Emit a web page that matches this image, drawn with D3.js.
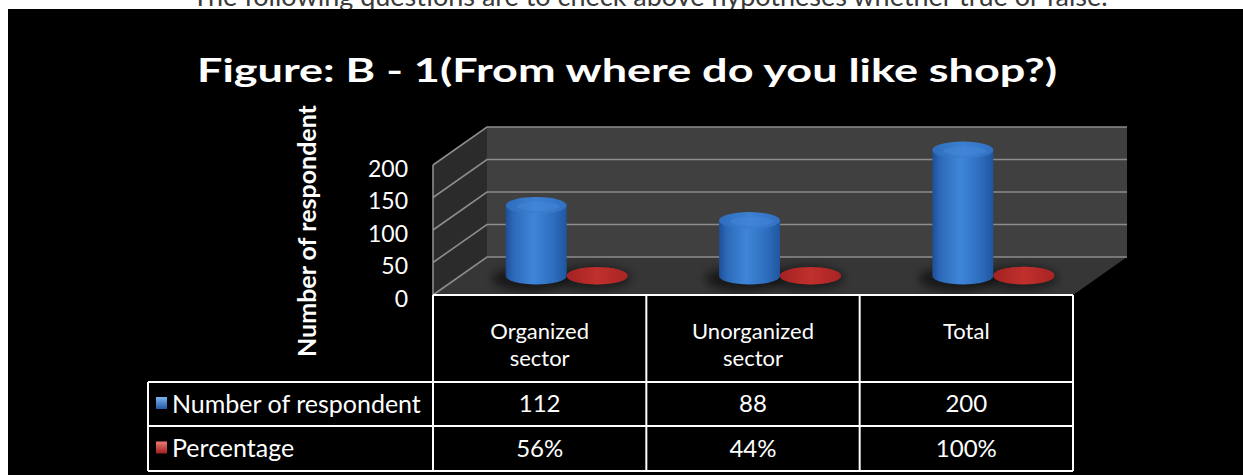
<!DOCTYPE html>
<html>
<head>
<meta charset="utf-8">
<script src="https://cdn.jsdelivr.net/npm/d3@7"></script>
<style>
  html, body { margin: 0; padding: 0; background: #fff; overflow: hidden; }
  svg { display: block; }
</style>
</head>
<body>
<svg id="chart" width="1243" height="475"></svg>
<script>
// ---- data ----
const categories = ["Organized sector", "Unorganized sector", "Total"];
const categoryLines = [["Organized", "sector"], ["Unorganized", "sector"], ["Total"]];
const seriesNames = ["Number of respondent", "Percentage"];
const respondents = [112, 88, 200];
const percentages = [0.56, 0.44, 1.00];
const yTicks = [0, 50, 100, 150, 200];
const chartTitle = "Figure: B - 1(From where do you like shop?)";
const axisTitle = "Number of respondent";
const noteText = "The following questions are to check above hypotheses whether true or false.";

const FONT = "Lato, 'Open Sans', sans-serif";
const svg = d3.select("#chart");
const defs = svg.append("defs");

// ---- page strip and dark chart area ----
svg.append("text")
  .attr("x", 650).attr("y", 6)
  .attr("text-anchor", "middle")
  .attr("font-family", FONT).attr("font-size", 27)
  .attr("fill", "#3a3a3a")
  .text(noteText);

svg.append("rect")
  .attr("x", 8).attr("y", 9).attr("width", 1235).attr("height", 466)
  .attr("fill", "#000");

// ---- title ----
svg.append("text")
  .attr("x", 627).attr("y", 82)
  .attr("text-anchor", "middle")
  .attr("font-family", FONT).attr("font-weight", 700).attr("font-size", 33)
  .attr("fill", "#fff")
  .attr("textLength", 860).attr("lengthAdjust", "spacingAndGlyphs")
  .text(chartTitle);

// ---- scales ----
const plot = { x0: 433, x1: 1073, base: 295, top: 165 };
const depth = { dx: 54, dy: -38 };
const y = d3.scaleLinear().domain([0, 200]).range([plot.base, plot.top]);
const x = d3.scaleBand().domain(categories).range([plot.x0, plot.x1]);
const xs = d3.scaleBand().domain(seriesNames).range([0, x.bandwidth()])
  .paddingInner(0).paddingOuter(0.75);
// plane half way into the box, where the columns stand
const mid = { dx: depth.dx * 0.5, dy: depth.dy * 0.5 };
const yMid = d3.scaleLinear().domain([0, 200]).range([plot.base + mid.dy, 150]);

// ---- 3D box: side wall, back wall, floor ----
const bx0 = plot.x0 + depth.dx, bx1 = plot.x1 + depth.dx;
const box = svg.append("g");
box.append("polygon")
  .attr("points", [[plot.x0, y(0)], [plot.x0, y(200)], [bx0, y(200) + depth.dy], [bx0, y(0) + depth.dy]].join(" "))
  .attr("fill", "#2b2b2b");
box.append("rect")
  .attr("x", bx0).attr("y", y(200) + depth.dy)
  .attr("width", bx1 - bx0).attr("height", y(0) - y(200))
  .attr("fill", "#404040");
box.append("polygon")
  .attr("points", [[plot.x0, y(0)], [plot.x1, y(0)], [bx1, y(0) + depth.dy], [bx0, y(0) + depth.dy]].join(" "))
  .attr("fill", "#363636");

// gridlines on side wall and back wall
const grid = box.append("g").attr("stroke", "#8c8c8c").attr("stroke-width", 1.6).attr("fill", "none");
grid.selectAll("polyline").data(yTicks).join("polyline")
  .attr("points", d => [[plot.x0, y(d)], [bx0, y(d) + depth.dy], [bx1, y(d) + depth.dy]].join(" "));
grid.append("line")
  .attr("x1", plot.x0).attr("x2", plot.x0)
  .attr("y1", y(0)).attr("y2", y(200));

// ---- y axis ----
const axis = svg.append("g")
  .attr("transform", `translate(${plot.x0},4)`)
  .call(d3.axisLeft(y).tickValues(yTicks).tickSize(0).tickPadding(25));
axis.select(".domain").remove();
axis.selectAll("text")
  .attr("font-family", FONT).attr("font-size", 23).attr("fill", "#fff");

svg.append("text")
  .attr("transform", "translate(316,231) rotate(-90)")
  .attr("text-anchor", "middle")
  .attr("font-family", FONT).attr("font-weight", 700).attr("font-size", 25)
  .attr("fill", "#fff")
  .text(axisTitle);

// ---- gradients ----
function hGrad(id, stops) {
  const g = defs.append("linearGradient").attr("id", id)
    .attr("x1", "0%").attr("x2", "100%").attr("y1", "0%").attr("y2", "0%");
  stops.forEach(([o, c]) => g.append("stop").attr("offset", o).attr("stop-color", c));
}
hGrad("blueBody", [["0%", "#1d4f95"], ["12%", "#2c68b8"], ["45%", "#3f86d8"], ["80%", "#2d6cbd"], ["100%", "#1f559e"]]);
hGrad("blueTop", [["0%", "#2f6dbd"], ["50%", "#3c80d2"], ["100%", "#3270c2"]]);
hGrad("redDisk", [["0%", "#a32222"], ["50%", "#c0302c"], ["100%", "#a82424"]]);
const vGrad = (id, a, b) => {
  const g = defs.append("linearGradient").attr("id", id)
    .attr("x1", "0%").attr("x2", "0%").attr("y1", "0%").attr("y2", "100%");
  g.append("stop").attr("offset", "0%").attr("stop-color", a);
  g.append("stop").attr("offset", "100%").attr("stop-color", b);
};
vGrad("keyBlue", "#7fb3ee", "#2459a6");
vGrad("keyRed", "#ee7a74", "#9e1f1f");
defs.append("filter").attr("id", "soft").attr("x", "-50%").attr("y", "-50%").attr("width", "200%").attr("height", "200%")
  .append("feGaussianBlur").attr("stdDeviation", 5);

// ---- columns ----
const ry = 8.5;
const rx = xs.bandwidth() / 2;
const rows = categories.map((c, i) => ({ cat: c, n: respondents[i], p: percentages[i] }));
const cx = (cat, s) => x(cat) + xs(s) + xs.bandwidth() / 2 + mid.dx;

const shadows = svg.append("g").attr("filter", "url(#soft)");
rows.forEach(r => {
  shadows.append("ellipse")
    .attr("cx", cx(r.cat, seriesNames[0]) - 6).attr("cy", yMid(0) + 3)
    .attr("rx", rx + 8).attr("ry", ry + 4).attr("fill", "#000").attr("opacity", 0.55);
  shadows.append("ellipse")
    .attr("cx", cx(r.cat, seriesNames[1]) - 4).attr("cy", yMid(0) + 2)
    .attr("rx", rx + 8).attr("ry", ry + 4).attr("fill", "#000").attr("opacity", 0.45);
});

const cyl = svg.append("g");
rows.forEach(r => {
  // red disk for the percentage (fraction of one, so it barely rises)
  const rc = cx(r.cat, seriesNames[1]);
  const g2 = cyl.append("g");
  g2.append("path")
    .attr("d", `M${rc - rx},${yMid(0)} L${rc - rx},${yMid(r.p)} A${rx},${ry} 0 0 1 ${rc + rx},${yMid(r.p)} L${rc + rx},${yMid(0)} A${rx},${ry} 0 0 1 ${rc - rx},${yMid(0)}Z`)
    .attr("fill", "url(#redDisk)");
  g2.append("ellipse").attr("cx", rc).attr("cy", yMid(r.p)).attr("rx", rx).attr("ry", ry)
    .attr("fill", "url(#redDisk)");
});
rows.forEach(r => {
  const c = cx(r.cat, seriesNames[0]);
  const yb = yMid(0), yt = yMid(r.n);
  const g = cyl.append("g");
  g.append("path")
    .attr("d", `M${c - rx},${yt} L${c - rx},${yb} A${rx},${ry} 0 0 0 ${c + rx},${yb} L${c + rx},${yt}Z`)
    .attr("fill", "url(#blueBody)");
  g.append("ellipse").attr("cx", c).attr("cy", yt).attr("rx", rx).attr("ry", ry)
    .attr("fill", "url(#blueTop)");
  g.append("ellipse").attr("cx", c + 2).attr("cy", yt + 1).attr("rx", rx * 0.7).attr("ry", ry * 0.55)
    .attr("fill", "#4a8fe0").attr("opacity", 0.35);
});

// ---- data table ----
const table = svg.append("g").attr("font-family", FONT).attr("fill", "#fff");
const rowY = [plot.base, 382, 426, 471];
const leftX = 148;
const colEdges = [plot.x0].concat(categories.map(c => x(c) + x.bandwidth()));
const lineAttrs = sel => sel.attr("stroke", "#fff").attr("stroke-width", 2);

// horizontal rules
table.append("line").call(lineAttrs).attr("x1", plot.x0).attr("x2", plot.x1).attr("y1", rowY[0]).attr("y2", rowY[0]);
[rowY[1], rowY[2], rowY[3]].forEach(yy =>
  table.append("line").call(lineAttrs).attr("x1", leftX).attr("x2", plot.x1).attr("y1", yy).attr("y2", yy));
// vertical rules
table.append("line").call(lineAttrs).attr("x1", leftX).attr("x2", leftX).attr("y1", rowY[1]).attr("y2", rowY[3]);
colEdges.forEach(xx =>
  table.append("line").call(lineAttrs).attr("x1", xx).attr("x2", xx).attr("y1", rowY[0]).attr("y2", rowY[3]));

// category headers, one text per line
categories.forEach((c, i) => {
  categoryLines[i].forEach((ln, k) =>
    table.append("text")
      .attr("x", x(c) + x.bandwidth() / 2).attr("y", 339 + k * 27)
      .attr("text-anchor", "middle").attr("font-size", 22).attr("fill", "#fff")
      .text(ln));
});

// series rows with legend keys
const fmt = [d3.format("d"), d3.format(".0%")];
const seriesValues = [respondents, percentages];
const keyFill = ["url(#keyBlue)", "url(#keyRed)"];
seriesNames.forEach((s, j) => {
  const yc = (rowY[j + 1] + rowY[j + 2]) / 2;
  table.append("rect").attr("x", 156).attr("y", yc - 7).attr("width", 11).attr("height", 12)
    .attr("fill", keyFill[j]);
  table.append("text").attr("x", 172).attr("y", yc).attr("dy", "0.35em")
    .attr("font-size", 25).attr("fill", "#fff").text(s);
  categories.forEach((c, i) =>
    table.append("text")
      .attr("x", x(c) + x.bandwidth() / 2).attr("y", yc).attr("dy", "0.35em")
      .attr("text-anchor", "middle").attr("font-size", 24).attr("fill", "#fff")
      .text(fmt[j](seriesValues[j][i])));
});
</script>
</body>
</html>
